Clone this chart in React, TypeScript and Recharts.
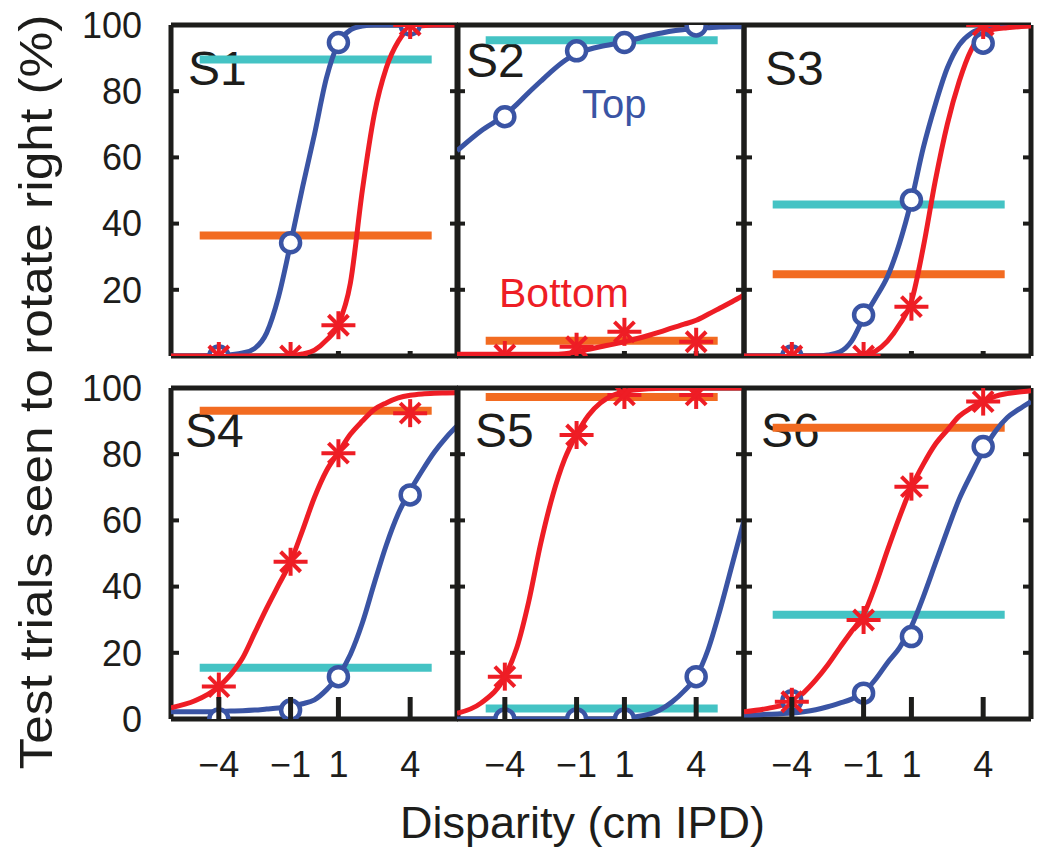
import React from 'react';
import { ComposedChart, Line, Scatter, XAxis, YAxis } from 'recharts';

const INK = '#1d1d1b';
const TOP_BLUE = '#3a54a4';
const BOTTOM_RED = '#ee1d25';
const CYAN = '#44c3c4';
const ORANGE = '#f26b21';
const FONT = '"Liberation Sans", Arial, Helvetica, sans-serif';

const subjects = ['S1', 'S2', 'S3', 'S4', 'S5', 'S6'];
const xTicks = [-4, -1, 1, 4];
const trialX = [-4, -1, 1, 4];
const barX = [-4.8, 4.9];
const innerYTicks = [20, 40, 60, 80];
const yLabelsTop = [20, 40, 60, 80, 100];
const yLabelsBottom = [0, 20, 40, 60, 80, 100];

// fitted curves, read at these disparities
const fitX = [-6, -5, -4, -3.5, -3, -2.5, -2, -1.5, -1, -0.5, 0, 0.5, 1, 1.5, 2, 2.5, 3, 3.5, 4, 4.5, 5, 5.5, 6];

const topFitS1 = [0, 0, 0.2, 0.4, 0.9, 2.3, 7, 18, 34, 51, 67, 84, 94.5, 98.5, 99.7, 100, 100, 100, 100, 100, 100, 100, 100];
const bottomFitS1 = [0, 0, 0, 0, 0, 0, 0, 0, 0.1, 0.6, 1.8, 4.8, 9.5, 22, 50, 73, 87, 95, 99, 99.8, 100, 100, 100];
const topFitS2 = [62, 68, 72.8, 76, 79.6, 83, 86.3, 89.2, 91.4, 92.6, 93.5, 94.2, 94.8, 95.8, 96.8, 97.5, 98.2, 98.6, 99, 99.2, 99.4, 99.5, 99.5];
const bottomFitS2 = [0.5, 0.5, 0.5, 0.5, 0.5, 0.5, 0.5, 0.7, 1.2, 2, 2.8, 3.5, 4.3, 5.2, 6.2, 7.3, 8.5, 9.6, 10.8, 12.6, 14.5, 16.4, 18.4];
const topFitS3 = [0, 0, 0, 0, 0, 0.3, 1.2, 4.5, 11.5, 17.5, 24, 34, 47, 63, 76, 87, 94, 97.5, 99, 99.7, 100, 100, 100];
const bottomFitS3 = [0, 0, 0, 0, 0, 0, 0, 0, 0.2, 1.5, 4.5, 9.5, 16.5, 33, 53, 70, 83, 92.5, 97.3, 98.8, 99.2, 99.5, 99.7];
const topFitS4 = [2.2, 2.2, 2.3, 2.4, 2.5, 2.7, 3, 3.3, 3.8, 4.6, 5.8, 8.8, 13, 19.5, 29, 41, 52.5, 62, 69, 75, 80.5, 85, 88.8];
const bottomFitS4 = [3.4, 5.5, 9.8, 13.5, 18.5, 26, 33.5, 40.5, 47.5, 57, 67, 75, 80.5, 86, 90, 93.5, 95.5, 97, 97.8, 98.2, 98.4, 98.5, 98.6];
const topFitS5 = [0, 0, 0, 0, 0, 0, 0, 0, 0, 0, 0, 0.1, 0.3, 0.7, 1.4, 2.8, 5.2, 8.5, 12.8, 21, 33, 46.5, 60];
const bottomFitS5 = [1.7, 4.8, 12.8, 21.5, 35.5, 53, 67.5, 78.5, 86, 91.8, 95.5, 97.7, 99, 99.5, 99.8, 99.9, 100, 100, 100, 100, 100, 100, 100];
const topFitS6 = [1.2, 1.4, 1.8, 2.2, 2.8, 3.7, 4.8, 6, 8, 12, 17, 21.5, 28, 37, 47, 57, 66.5, 74, 81, 86.8, 91, 93.6, 95.9];
const bottomFitS6 = [2.2, 3.2, 5.3, 8, 11.8, 16.3, 21.5, 26.5, 31.5, 40.5, 51, 61, 70, 77, 83, 87.3, 91.5, 94, 96, 97.5, 98.3, 98.8, 99.2];

// measured percentages at trialX
const topPtsS1 = [0, 34.2, 94.7, 100];
const bottomPtsS1 = [0, 0, 9.3, 100];
const topPtsS2 = [72.3, 92.2, 94.7, 99.7];
const bottomPtsS2 = [0.3, 2.8, 7.3, 4.3];
const topPtsS3 = [0, 12.4, 47.1, 94.5];
const bottomPtsS3 = [0, 0, 14.9, 100];
const topPtsS4 = [0, 2.7, 12.8, 67.7];
const bottomPtsS4 = [9.8, 47.5, 80.3, 92.4];
const topPtsS5 = [0, 0, 0, 12.8];
const bottomPtsS5 = [12.8, 85.8, 97.9, 97.9];
const topPtsS6 = [5.5, 7.8, 24.9, 82.3];
const bottomPtsS6 = [5.2, 29.9, 70.2, 95.9];

// horizontal levels
const cyanLevels = [89.6, 95.4, 45.8, 15.5, 3.2, 31.5];
const orangeLevels = [36.4, 4.6, 24.7, 93.1, 97.3, 88];

const topFits = [topFitS1, topFitS2, topFitS3, topFitS4, topFitS5, topFitS6];
const bottomFits = [bottomFitS1, bottomFitS2, bottomFitS3, bottomFitS4, bottomFitS5, bottomFitS6];
const topPts = [topPtsS1, topPtsS2, topPtsS3, topPtsS4, topPtsS5, topPtsS6];
const bottomPts = [bottomPtsS1, bottomPtsS2, bottomPtsS3, bottomPtsS4, bottomPtsS5, bottomPtsS6];

const toPoints = (xs: number[], ys: number[]) => xs.map((x, i) => ({ x, y: ys[i] }));

const colLeft = [171, 457, 744];
const rowTop = [25, 388];
const PW = 287;
const PH = 331;
const PAD = 16;
const PAD_TOP = 24;
const labelPos = [[188, 85], [466, 77], [765, 85], [185, 447], [475, 447], [761, 447]];

const fmtX = (v: number) => (v < 0 ? `\u2212${Math.abs(v)}` : `${v}`);
const blankTick = () => <g />;

// bottom row: tick mark points inward, label sits below the frame
const BottomTick = (props: any) => {
	const { x, y, payload } = props;
	return (
		<g>
			<line x1={x} y1={y} x2={x} y2={y - 22} stroke={INK} strokeWidth={5} />
			<text x={x} y={y + 58} textAnchor="middle" fontSize={36} fill={INK} fontFamily={FONT}>
				{fmtX(payload.value)}
			</text>
		</g>
	);
};

const OpenCircle = (props: any) => {
	const { cx, cy } = props;
	if (cx == null || cy == null) return <g />;
	return <circle cx={cx} cy={cy} r={9.5} fill="#ffffff" stroke={TOP_BLUE} strokeWidth={4.5} />;
};

const Asterisk = (props: any) => {
	const { cx, cy } = props;
	if (cx == null || cy == null) return <g />;
	return (
		<g stroke={BOTTOM_RED} strokeWidth={4} strokeLinecap="butt">
			<line x1={cx - 17} y1={cy} x2={cx + 17} y2={cy} />
			<line x1={cx} y1={cy - 14} x2={cx} y2={cy + 14} />
			<line x1={cx - 10} y1={cy - 10} x2={cx + 10} y2={cy + 10} />
			<line x1={cx - 10} y1={cy + 10} x2={cx + 10} y2={cy - 10} />
		</g>
	);
};

const frame = { stroke: INK, strokeWidth: 5 };
const tickFont = { fontSize: 36, fill: INK, fontFamily: FONT };

const Panel = ({ idx }: { idx: number }) => {
	const col = idx % 3;
	const row = Math.floor(idx / 3);
	const labW = col === 0 ? 100 : 0;
	const labH = row === 1 ? 60 : 0;
	const w = PW + PAD * 2 + labW;
	const h = PH + PAD + PAD_TOP + labH;
	return (
		<div style={{ position: 'absolute', left: colLeft[col] - PAD - labW, top: rowTop[row] - PAD_TOP }}>
			<ComposedChart width={w} height={h} margin={{ top: PAD_TOP, right: PAD, bottom: PAD, left: PAD }}>
				{row === 0 ? (
					<XAxis xAxisId="m" dataKey="x" type="number" domain={[-6, 6]} allowDataOverflow orientation="bottom" mirror ticks={xTicks} interval={0} tickSize={5} tickLine={{ stroke: INK, strokeWidth: 5 }} axisLine={frame} tick={blankTick} />
				) : (
					<XAxis xAxisId="m" dataKey="x" type="number" domain={[-6, 6]} allowDataOverflow orientation="bottom" height={labH} ticks={xTicks} interval={0} tickSize={0} tickMargin={0} tickLine={false} axisLine={frame} tick={BottomTick} />
				)}
				<XAxis xAxisId="t" type="number" domain={[-6, 6]} allowDataOverflow orientation="top" mirror tick={false} tickLine={false} axisLine={frame} />
				<YAxis yAxisId="m" dataKey="y" type="number" domain={[0, 100]} allowDataOverflow orientation="left" mirror ticks={innerYTicks} interval={0} tickSize={8} tickLine={{ stroke: INK, strokeWidth: 4 }} axisLine={frame} tick={blankTick} />
				<YAxis yAxisId="r" type="number" domain={[0, 100]} allowDataOverflow orientation="right" mirror ticks={innerYTicks} interval={0} tickSize={8} tickLine={{ stroke: INK, strokeWidth: 4 }} axisLine={frame} tick={blankTick} />
				{col === 0 && (
					<YAxis yAxisId="lab" type="number" domain={[0, 100]} allowDataOverflow orientation="left" width={labW} ticks={row === 0 ? yLabelsTop : yLabelsBottom} interval={0} axisLine={false} tickLine={false} tickSize={0} tickMargin={29} tick={tickFont} />
				)}
				<Line xAxisId="m" yAxisId="m" data={toPoints(barX, [cyanLevels[idx], cyanLevels[idx]])} dataKey="y" type="linear" stroke={CYAN} strokeWidth={8} strokeLinecap="butt" dot={false} activeDot={false} isAnimationActive={false} zIndex={550} />
				<Line xAxisId="m" yAxisId="m" data={toPoints(barX, [orangeLevels[idx], orangeLevels[idx]])} dataKey="y" type="linear" stroke={ORANGE} strokeWidth={8} strokeLinecap="butt" dot={false} activeDot={false} isAnimationActive={false} zIndex={550} />
				<Line xAxisId="m" yAxisId="m" data={toPoints(fitX, topFits[idx])} dataKey="y" type="monotone" stroke={TOP_BLUE} strokeWidth={5} dot={false} activeDot={false} isAnimationActive={false} zIndex={550} />
				<Line xAxisId="m" yAxisId="m" data={toPoints(fitX, bottomFits[idx])} dataKey="y" type="monotone" stroke={BOTTOM_RED} strokeWidth={5} dot={false} activeDot={false} isAnimationActive={false} zIndex={550} />
				<Scatter xAxisId="m" yAxisId="m" data={toPoints(trialX, topPts[idx])} dataKey="y" shape={OpenCircle} isAnimationActive={false} />
				<Scatter xAxisId="m" yAxisId="m" data={toPoints(trialX, bottomPts[idx])} dataKey="y" shape={Asterisk} isAnimationActive={false} />
			</ComposedChart>
		</div>
	);
};

export default function App() {
	return (
		<div style={{ position: 'fixed', left: 0, top: 0, width: 1050, height: 863, background: '#ffffff', overflow: 'hidden' }}>
			<svg width={1050} height={863} style={{ position: 'absolute', left: 0, top: 0 }}>
				<text x={52} y={392} transform="rotate(-90, 52, 392)" textAnchor="middle" fontSize={47} fill={INK} fontFamily={FONT} textLength={755} lengthAdjust="spacingAndGlyphs">
					Test trials seen to rotate right (%)
				</text>
				<text x={400} y={838} fontSize={45} fill={INK} fontFamily={FONT}>
					Disparity (cm IPD)
				</text>
				{subjects.map((s, i) => (
					<text key={s} x={labelPos[i][0]} y={labelPos[i][1]} fontSize={48} fill={INK} fontFamily={FONT}>
						{s}
					</text>
				))}
				<text x={582} y={118} fontSize={40} fill={TOP_BLUE} fontFamily={FONT}>
					Top
				</text>
				<text x={499} y={307} fontSize={41} fill={BOTTOM_RED} fontFamily={FONT}>
					Bottom
				</text>
			</svg>
			{subjects.map((s, i) => (
				<Panel key={s} idx={i} />
			))}
		</div>
	);
}
